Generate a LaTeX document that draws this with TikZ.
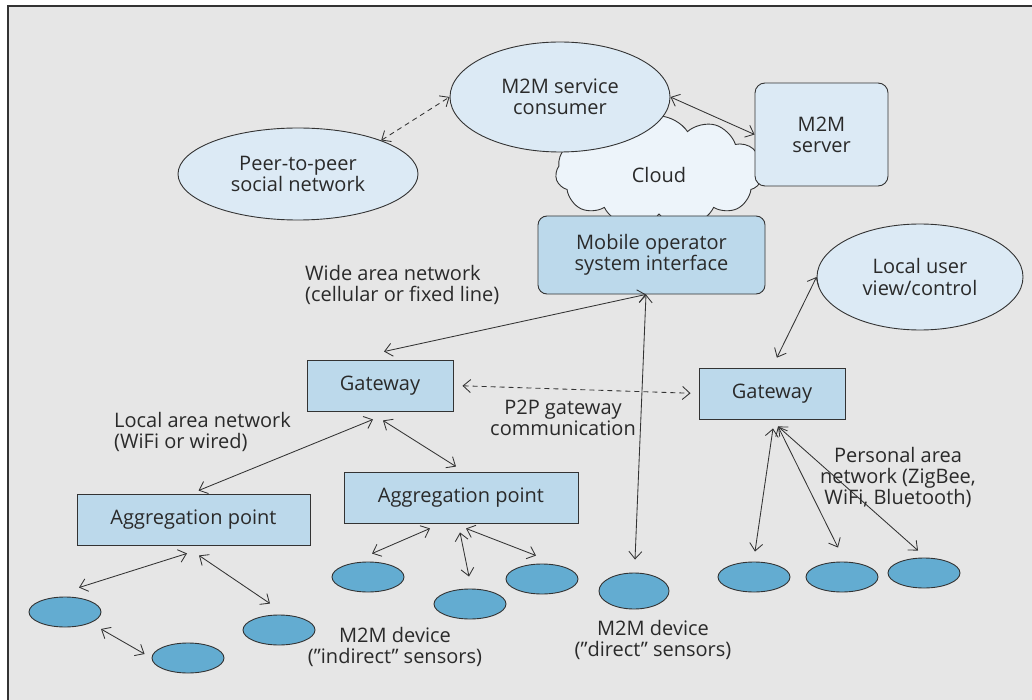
\documentclass[tikz,border=0pt]{standalone}
\usepackage{fontspec}
\setmainfont{Open Sans}
\usetikzlibrary{arrows.meta,shapes.geometric,shapes.symbols,calc}
\definecolor{bg}{HTML}{E6E6E6}
\definecolor{ln}{HTML}{333333}
\definecolor{txt}{HTML}{2A2A2A}
\definecolor{lblue}{HTML}{DCEAF5}
\definecolor{mblue}{HTML}{BCD9EB}
\definecolor{sblue}{HTML}{63ACD1}
\definecolor{cloudc}{HTML}{EDF4FA}
\begin{document}
\begin{tikzpicture}[x=1pt,y=-1pt,
  font=\fontsize{20}{21}\selectfont,
  lbl/.style={text=txt, align=center, inner sep=0pt},
  ell/.style={ellipse, draw=ln, fill=lblue, line width=0.9pt, inner sep=0pt, align=center, text=txt},
  box/.style={rectangle, draw=ln, fill=mblue, line width=0.9pt, inner sep=0pt, align=center, text=txt},
  sensor/.style={ellipse, draw=ln, fill=sblue, minimum width=72pt, minimum height=30pt, inner sep=0pt, line width=0.9pt},
  arr/.style={draw=ln, line width=0.85pt, {Straight Barb[length=7.5pt,width=13pt]}-{Straight Barb[length=7.5pt,width=13pt]}},
  darr/.style={arr, dash pattern=on 5pt off 4pt}
]
\useasboundingbox (0,0) rectangle (1032,700);
% frame
\fill[bg] (8,6) rectangle (1040,710);
\draw[line width=1.2pt, ln] (1040,6) -- (8,6) -- (8,710);

% cloud (behind)
\node[cloud, cloud puffs=11, cloud puff arc=115, aspect=1.85, draw=ln, fill=cloudc,
      line width=0.9pt, minimum width=207pt, minimum height=112pt, inner sep=0pt, text=txt]
      (cloud) at (659,172) {};
\node[lbl] (cloudt) at (659,175) {Cloud};

% top nodes
\node[ell, minimum width=220pt, minimum height=110pt] (cons) at (560,97) {M2M service\\consumer};
\node[ell, minimum width=240pt, minimum height=92pt] (peer) at (298,174) {Peer-to-peer\\social network};
\node[box, fill=lblue, rounded corners=10pt, minimum width=133pt, minimum height=103pt] (server) at (821.5,134.5) {M2M\\server};
\node[box, rounded corners=9pt, minimum width=227pt, minimum height=78pt] (mob) at (651.5,255) {Mobile operator\\system interface};
\node[ell, minimum width=206pt, minimum height=106pt] (lu) at (920,277) {Local user\\view/control};

% gateways and aggregation points
\node[box, minimum width=146pt, minimum height=51pt] (gwL) at (380,385.5) {Gateway};
\node[box, minimum width=146pt, minimum height=51pt] (gwR) at (772,393.5) {Gateway};
\node[box, minimum width=233pt, minimum height=51pt] (aggL) at (193.5,519.5) {Aggregation point};
\node[box, minimum width=234pt, minimum height=51pt] (aggM) at (461,497.5) {Aggregation point};

% sensors
\node[sensor] (sL1) at (65,612) {};
\node[sensor] (sL2) at (188,658) {};
\node[sensor] (sL3) at (279,630) {};
\node[sensor] (sM1) at (368,577) {};
\node[sensor] (sM2) at (470,604) {};
\node[sensor] (sM3) at (542,579) {};
\node[sensor, minimum width=70pt, minimum height=36pt] (dsen) at (634,591) {};
\node[sensor] (p1) at (754,577) {};
\node[sensor] (p2) at (842,577) {};
\node[sensor] (p3) at (924,573) {};

% labels
\node[lbl, anchor=west, align=left] (wan) at (305,285) {Wide area network\\(cellular or fixed line)};
\node[lbl, anchor=west, align=left] (lan) at (114,432) {Local area network\\(WiFi or wired)};
\node[lbl] (p2p) at (563,418) {P2P gateway\\communication};
\node[lbl] (pan) at (898,477) {Personal area\\network (ZigBee,\\WiFi, Bluetooth)};
\node[lbl] (ind) at (395,647) {M2M device\\(”indirect” sensors)};
\node[lbl] (dir) at (653,640) {M2M device\\(”direct” sensors)};

% connectors
\draw[darr] (peer.22.5) -- (cons.west);
\draw[arr] (cons.east) -- (server.west);
\draw[arr] ($(gwL.north)+(4,-8)$) -- ($(mob.south)+(-5.5,0)$);
\draw[arr] ($(mob.south)+(-5.5,0)$) -- ($(dsen.north)+(1,-13)$);
\draw[darr, shorten <=9pt, shorten >=8pt] (gwL.east) -- (gwR.west);
\draw[arr, shorten <=11pt] (gwR.north) -- (lu.west);
\draw[arr] ($(gwR.south)+(1,9)$) -- ($(p1.north)+(1,-10)$);
\draw[arr] ($(gwR.south)+(6,7)$) -- ($(p2.north)+(-4,-14)$);
\draw[arr] ($(gwR.south)+(6,7)$) -- ($(p3.north)+(-6,-7)$);
\draw[arr] ($(gwL.south)+(-7,8)$) -- ($(aggL.north)+(5,-3)$);
\draw[arr] ($(gwL.south)+(3,9)$) -- ($(aggM.north)+(-5,-5)$);
\draw[arr] ($(aggL.south)+(-6.5,8)$) -- ($(sL1.north)+(14,-9)$);
\draw[arr] ($(aggL.south)+(5.5,10)$) -- ($(sL3.north)+(-9,-11)$);
\draw[arr] ($(sL1.center)+(36,17)$) -- ($(sL2.west)+(-7,-4)$);
\draw[arr] ($(aggM.south)+(-31,5)$) -- ($(sM1.north)+(4,-8)$);
\draw[arr] ($(aggM.south)+(-1,9)$) -- ($(sM2.north)+(-1,-12)$);
\draw[arr] ($(aggM.south)+(5,5)$) -- ($(sM3.north)+(-6,-8)$);
\end{tikzpicture}
\end{document}
